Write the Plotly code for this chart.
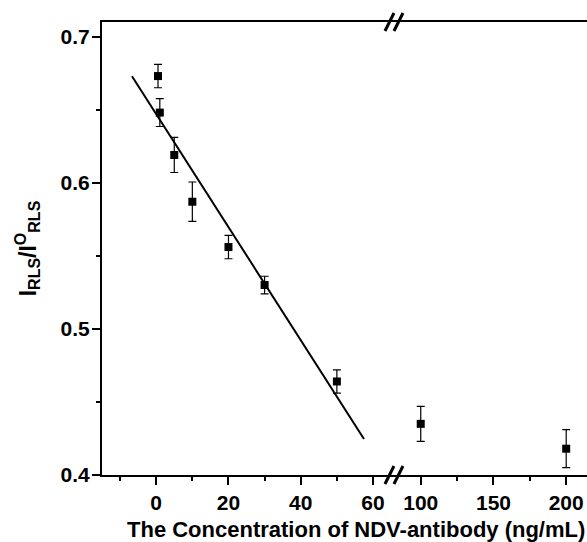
import plotly.graph_objects as go

# Data
conc_low = [0.5, 1, 5, 10, 20, 30, 50]
ratio_low = [0.673, 0.648, 0.619, 0.587, 0.556, 0.530, 0.464]
err_low = [0.008, 0.0095, 0.012, 0.0135, 0.008, 0.006, 0.008]

conc_high = [100, 200]
ratio_high = [0.435, 0.418]
err_high = [0.012, 0.013]

fit_slope = -0.003868
fit_intercept = 0.647
fit_x = [-6.7, 57.5]
fit_y = [fit_intercept + fit_slope * v for v in fit_x]

x1_ticks = [0, 20, 40, 60]
x2_ticks = [100, 150, 200]
y_ticks = [0.4, 0.5, 0.6, 0.7]

FONT = "Liberation Sans"
BLACK = "#000000"

fig = go.Figure()

marker = dict(symbol="square", size=8, color=BLACK)
errstyle = dict(type="data", thickness=1.2, width=4, color=BLACK)

fig.add_trace(go.Scatter(x=fit_x, y=fit_y, mode="lines",
                         line=dict(color=BLACK, width=2),
                         xaxis="x", yaxis="y", showlegend=False))
fig.add_trace(go.Scatter(x=conc_low, y=ratio_low, mode="markers", marker=marker,
                         error_y=dict(array=err_low, **errstyle),
                         xaxis="x", yaxis="y", showlegend=False))
fig.add_trace(go.Scatter(x=conc_high, y=ratio_high, mode="markers", marker=marker,
                         error_y=dict(array=err_high, **errstyle),
                         xaxis="x2", yaxis="y", showlegend=False))

tickfont = dict(family=FONT, size=21, color=BLACK, weight="bold")
split = 0.602

common_x = dict(showline=True, linecolor=BLACK, linewidth=2, mirror=True,
                ticks="outside", ticklen=8, tickwidth=2, tickcolor=BLACK,
                showgrid=False, zeroline=False, tickfont=tickfont, anchor="y")

sub = '<sub><span style="font-size:16px">RLS</span></sub>'
sup = '<sup><span style="font-size:16px">O</span></sup>'
ytitle = "I" + sub + "/I" + sup + sub

fig.update_layout(
    width=587, height=542,
    margin=dict(l=102, r=0, t=22, b=67),
    paper_bgcolor="white", plot_bgcolor="white",
    xaxis=dict(domain=[0, split], range=[-15, 65.8], tickmode="array",
               tickvals=x1_ticks,
               minor=dict(tickvals=[-10, 10, 30, 50], ticks="outside", ticklen=4,
                          tickwidth=2, tickcolor=BLACK, showgrid=False),
               **common_x),
    xaxis2=dict(domain=[split, 1], range=[81.6, 214.3], tickmode="array",
                tickvals=x2_ticks,
                minor=dict(tickvals=[125, 175], ticks="outside", ticklen=4,
                           tickwidth=2, tickcolor=BLACK, showgrid=False),
                **common_x),
    yaxis=dict(domain=[0, 1], range=[0.4, 0.71], tickmode="array", tickvals=y_ticks,
               tickformat=".1f", ticklabelstandoff=-2,
               showline=True, linecolor=BLACK, linewidth=2, mirror=False,
               ticks="outside", ticklen=8, tickwidth=2, tickcolor=BLACK,
               minor=dict(tickvals=[0.45, 0.55, 0.65], ticks="outside", ticklen=4,
                          tickwidth=2, tickcolor=BLACK, showgrid=False),
               showgrid=False, zeroline=False, tickfont=tickfont, anchor="x",
               title=dict(text=ytitle,
                          font=dict(family=FONT, size=23, color=BLACK, weight="bold"),
                          standoff=18)),
)

fig.add_annotation(text="The Concentration of NDV-antibody (ng/mL)",
                   xref="paper", yref="paper", x=0.524, y=0, yshift=-40,
                   xanchor="center", yanchor="top", showarrow=False,
                   font=dict(family=FONT, size=22, color=BLACK, weight="bold"))

# axis-break marks
for ya in (0, 1):
    for off in (-4.5, 4.5):
        fig.add_shape(type="line", xref="paper", yref="paper",
                      xsizemode="pixel", ysizemode="pixel",
                      xanchor=split, yanchor=ya,
                      x0=off - 4.5, x1=off + 4.5, y0=-9, y1=9,
                      line=dict(color=BLACK, width=3))

fig.write_html("out.html")
